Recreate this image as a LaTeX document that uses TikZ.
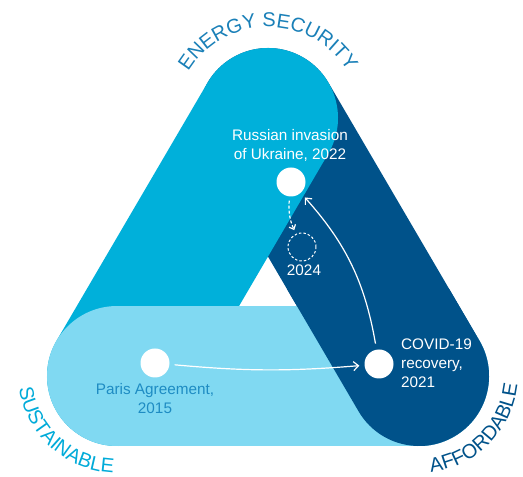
\documentclass[tikz,border=0pt]{standalone}
\usepackage{fontspec}
\setmainfont{Liberation Sans}
\usetikzlibrary{arrows.meta,decorations.text}
\definecolor{cyanb}{HTML}{00B0DA}
\definecolor{darkb}{HTML}{00528A}
\definecolor{lightb}{HTML}{80D9F2}
\definecolor{esec}{HTML}{1A80B8}
\definecolor{sust}{HTML}{00ABD9}
\definecolor{affo}{HTML}{00528A}
\definecolor{paristxt}{HTML}{1E8CC3}
\newcommand\arcfont{\fontsize{20}{24}\selectfont}
\newcommand\evfont{\fontsize{15.3}{19}\selectfont}
\begin{document}
\begin{tikzpicture}[x=1pt,y=1pt,
  band/.style={line width=140pt, line cap=round},
  dot/.style={circle, fill=white, minimum size=29pt, inner sep=0pt},
  ghost/.style={circle, draw=white, line width=1pt, dash pattern=on 2.5pt off 2pt, minimum size=28pt, inner sep=0pt},
  evlabel/.style={font=\evfont, inner sep=0pt},
  flow/.style={draw=white, line width=1.2pt, -{Straight Barb[length=5pt,width=9pt]}},
  ]
\useasboundingbox (0,0) rectangle (523,477);
\fill[white] (0,0) rectangle (523,477);
\coordinate (T) at (268,359);
\coordinate (L) at (117,101);
\coordinate (R) at (419,101);
\draw[band, darkb] (T) -- (R);
\draw[band, cyanb] (T) -- (L);
\draw[band, lightb] (L) -- (R);
\begin{scope}
\clip (268,0) rectangle (523,187);
\draw[band, darkb] (T) -- (R);
\end{scope}
\path[decorate, decoration={text along path, text={|\arcfont\color{esec}|ENERGY SECURITY}, text align=center}]
  (268,357) ++(170:93) arc[start angle=170, end angle=10, radius=93];
\path[decorate, decoration={text along path, text={|\arcfont\color{sust}|SUSTAINABLE}, text align=center}]
  (117,103) ++(158:99) arc[start angle=158, end angle=298, radius=99];
\path[decorate, decoration={text along path, text={|\arcfont\color{affo}|AFFORDABLE}, text align=center}]
  (419,103) ++(245.5:99) arc[start angle=245.5, end angle=385.5, radius=99];
\node[dot] (russia) at (291,295) {};
\node[ghost] (y2024) at (302,230) {};
\node[dot] (paris) at (155,114) {};
\node[dot] (covid) at (379,113) {};
\node[evlabel, text=white, align=center, anchor=north] (russialbl) at (290,348) {Russian invasion\\of Ukraine, 2022};
\node[evlabel, text=white, anchor=base] (y2024lbl) at (304,201) {2024};
\node[evlabel, text=white, align=left, anchor=north west] (covidlbl) at (401,138) {COVID-19\\recovery,\\2021};
\node[evlabel, text=paristxt, align=center, anchor=north] (parislbl) at (155,94) {Paris Agreement,\\2015};
\draw[flow, shorten <=5pt, shorten >=5pt] (paris) to[bend right=5] (covid);
\draw[flow, shorten <=6pt, shorten >=6pt] (covid) to[bend right=16] (russia);
\draw[flow, dash pattern=on 3pt off 2pt, shorten <=4pt, shorten >=4pt, -{Straight Barb[length=4pt,width=7pt]}] (russia) to[bend right=15] (y2024);
\end{tikzpicture}
\end{document}
